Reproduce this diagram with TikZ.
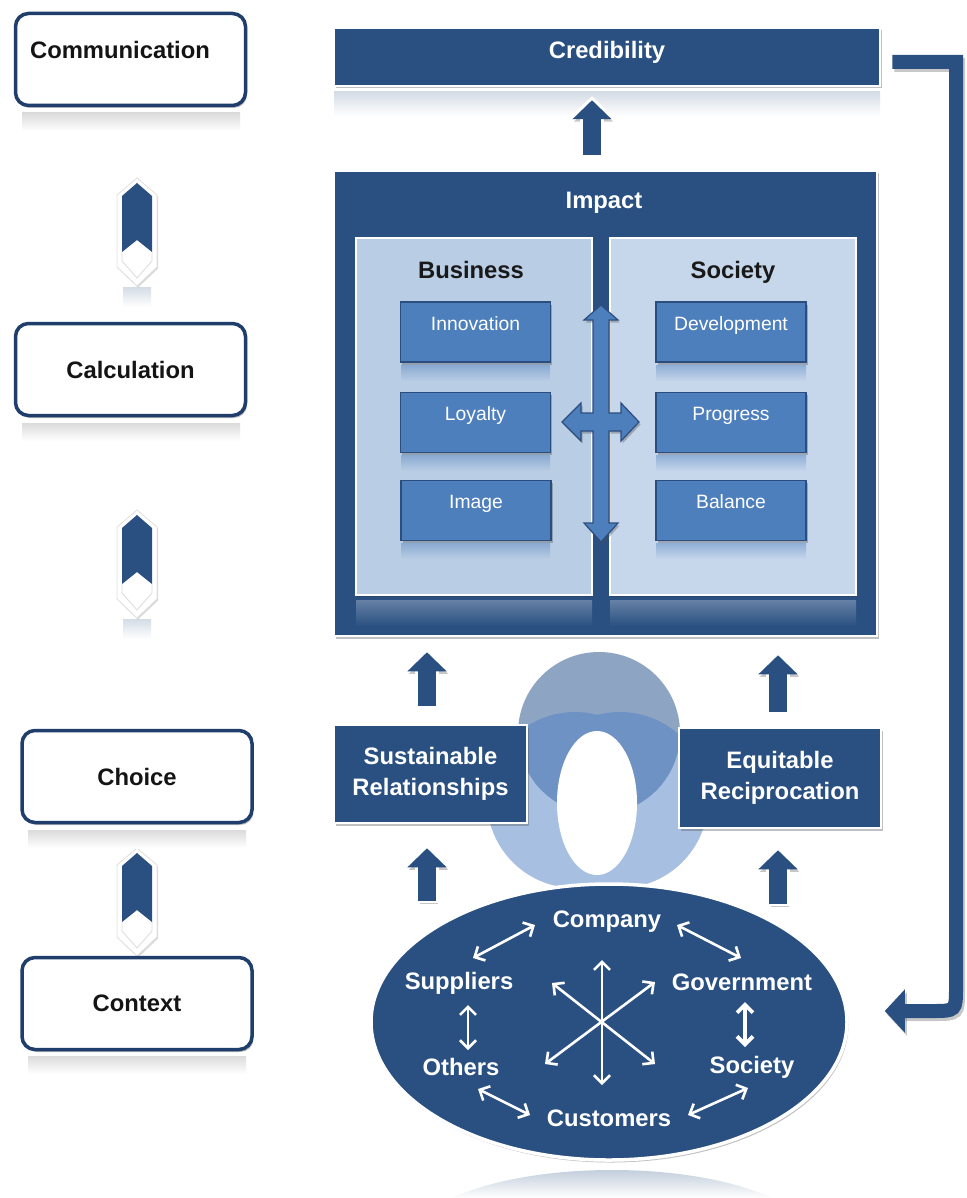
\documentclass[tikz,border=0pt]{standalone}
\usepackage{fontspec}
\setmainfont{Liberation Sans}
\usetikzlibrary{arrows.meta,shadows,calc,shapes.geometric}

\definecolor{dkblue}{RGB}{42,80,130}
\definecolor{rimblue}{RGB}{31,62,107}
\definecolor{midblue}{RGB}{78,127,189}
\definecolor{edgeblue}{RGB}{44,78,126}
\definecolor{panelA}{RGB}{185,205,228}
\definecolor{panelB}{RGB}{198,214,235}
\definecolor{venntop}{RGB}{142,164,195}
\definecolor{vennlow}{RGB}{167,192,225}
\definecolor{vennmix}{RGB}{110,146,196}

\newcommand\boldfont{\fontsize{23.8}{31}\selectfont\bfseries}
\newcommand\itemfont{\fontsize{19.3}{23}\selectfont}

% thick block arrow with white rim and soft shadow
\newcommand\liftarrow[2]{%
  \draw[line width=18pt, black, opacity=.22, -{Triangle[length=19pt,width=38pt]},
        transform canvas={xshift=1.5pt,yshift=-2.5pt}] (#1) -- (#2);
  \draw[line width=24pt, white, -{Triangle[length=22pt,width=46pt]}]
        ($(#1)+(0,2)$) -- ($(#2)+(0,-4)$);
  \draw[line width=18pt, dkblue, -{Triangle[length=19pt,width=38pt]}] (#1) -- (#2);
}

\begin{document}
\begin{tikzpicture}[x=1pt,y=-1pt,
  softshadow/.style={drop shadow={shadow xshift=1.5pt,shadow yshift=-2.5pt,opacity=.35,fill=black!70}},
  stagebox/.style={draw=rimblue, line width=3.5pt, fill=white, rounded corners=13pt,
    minimum width=230pt, minimum height=92pt, softshadow, font=\boldfont, text=black!92},
  navybox/.style={draw=white, line width=2.5pt, fill=dkblue, softshadow, text=white,
    font=\boldfont, align=center},
  panel/.style={draw=white, line width=2.5pt, inner sep=0pt,
    drop shadow={shadow xshift=1pt,shadow yshift=-1.5pt,opacity=.3,fill=black!80}},
  itembox/.style={draw=edgeblue, line width=1.8pt, fill=midblue, softshadow,
    minimum width=150pt, minimum height=60pt, text=white, font=\itemfont,
    text height=14pt, text depth=18pt},
  headtext/.style={font=\boldfont, text height=17pt, text depth=5pt},
  ovaltext/.style={font=\boldfont, text=white, inner sep=1pt},
  warrow/.style={draw=white, line width=2.6pt,
    {Straight Barb[length=8pt,width=16pt]}-{Straight Barb[length=8pt,width=16pt]}},
  boxglow/.style={top color=black!14, bottom color=white},
  blueglow/.style={top color=dkblue!20!white, bottom color=white},
  stagechevron/.pic={
    \shade[blueglow] (-14,104) rectangle (14,124);
    \filldraw[fill=white, draw=black!12, line width=.8pt,
      drop shadow={shadow xshift=1pt,shadow yshift=-1.5pt,opacity=.25,fill=black!60}]
      (0,-5) -- (20,12) -- (20,84) -- (0,103) -- (-20,84) -- (-20,12) -- cycle;
    \draw[black!14, line width=.8pt] (-15,69) -- (-15,78) -- (0,95) -- (15,78) -- (15,69);
    \fill[dkblue] (0,0) -- (15,13) -- (15,69) -- (0,57) -- (-15,69) -- (-15,13) -- cycle;
  }
]
\useasboundingbox (0,0) rectangle (966,1198);
\fill[white] (0,0) rectangle (966,1198);

% ---------- left column: stages ----------
\pic at (137,183) {stagechevron};
\pic at (137,515) {stagechevron};
\pic at (137,853) {stagechevron};

\shade[boxglow] (22,113) rectangle (240,131);
\shade[boxglow] (22,423) rectangle (240,441);
\shade[boxglow] (28,830) rectangle (246,848);
\shade[boxglow] (28,1056) rectangle (246,1074);

\node[stagebox, label={[font=\boldfont, text=black!92, xshift=-10.5pt, yshift=9.5pt]center:Communication}] (comm) at (130.5,59.5) {};
\node[stagebox] (calc) at (130.5,369.5) {Calculation};
\node[stagebox] (choice) at (137,776.5) {Choice};
\node[stagebox] (context) at (137,1003.5) {Context};

% ---------- credibility ----------
\shade[blueglow] (334,92) rectangle (880,116);
\node[navybox, minimum width=546pt, minimum height=58pt, text height=17pt, text depth=14pt] (cred) at (607,57) {Credibility};

% ---------- impact ----------
\node[navybox, minimum width=543pt, minimum height=465pt] (impact) at (605.5,403.5) {};
\node[headtext, text=white] (impacthead) at (604,203) {Impact};

\shade[top color=dkblue!72!white, bottom color=dkblue] (356,600) rectangle (592,626);
\shade[top color=dkblue!72!white, bottom color=dkblue] (610,600) rectangle (856,626);

\node[panel, fill=panelA, minimum width=236pt, minimum height=357pt] (bizpanel) at (474,416.5) {};
\node[panel, fill=panelB, minimum width=246pt, minimum height=357pt] (socpanel) at (733,416.5) {};
\node[headtext, text=black!90] (bizhead) at (471,272) {Business};
\node[headtext, text=black!90] (sochead) at (733,272) {Society};

\foreach \yy in {365,455,543}{
  \shade[top color=midblue!45!panelA, bottom color=panelA] (401,\yy) rectangle (550,\yy+16);
  \shade[top color=midblue!45!panelB, bottom color=panelB] (656,\yy) rectangle (806,\yy+16);
}
\node[itembox] (innov) at (475.5,332) {Innovation};
\node[itembox] (loyal) at (475.5,422.5) {Loyalty};
\node[itembox] (image) at (476,510.5) {Image};
\node[itembox] (devel) at (731,332) {Development};
\node[itembox] (progr) at (731,422.5) {Progress};
\node[itembox] (balan) at (731,510.5) {Balance};

% four-way exchange arrow between the two panels
\coordinate (cross) at (601,422);
\filldraw[fill=midblue, draw=edgeblue, line width=1.2pt, softshadow, shift={(cross)}]
  (0,-117) -- (17,-102) -- (8,-102) -- (8,-9) -- (20,-9) -- (20,-19) -- (38,0)
  -- (20,19) -- (20,9) -- (8,9) -- (8,101) -- (17,101) -- (0,120) -- (-17,101)
  -- (-8,101) -- (-8,9) -- (-20,9) -- (-20,19) -- (-39,0) -- (-20,-19) -- (-20,-9)
  -- (-8,-9) -- (-8,-102) -- (-17,-102) -- cycle;

% ---------- overlapping circles ----------
\fill[vennlow] (575,800) circle (88);
\fill[vennlow] (620,800) circle (88);
\fill[venntop] (599,733) circle (81);
\begin{scope}
  \clip (599,733) circle (81);
  \fill[vennmix] (575,800) circle (88);
  \fill[vennmix] (620,800) circle (88);
\end{scope}
\fill[white] (597,803) ellipse (40 and 72);

% ---------- middle boxes ----------
\node[navybox, minimum width=193pt, minimum height=98pt] (sust) at (430.5,774) {Sustainable\\Relationships};
\node[navybox, minimum width=202pt, minimum height=100pt] (equit) at (780,778) {Equitable\\Reciprocation};

% ---------- context oval ----------
\begin{scope}
  \clip (612,1240) ellipse (200 and 70);
  \shade[top color=dkblue!30!white, bottom color=white] (400,1168) rectangle (830,1198);
\end{scope}
\node[ellipse, draw=white, line width=3.5pt, fill=dkblue, minimum width=476pt,
      minimum height=276pt, softshadow] (ctx) at (609,1022) {};

\node[ovaltext] (comp) at (607,922) {Company};
\node[ovaltext] (supp) at (459,983) {Suppliers};
\node[ovaltext] (govt) at (742,982) {Government};
\node[ovaltext] (othr) at (461,1067) {Others};
\node[ovaltext] (socy) at (752,1067) {Society};
\node[ovaltext] (cust) at (609,1118) {Customers};

\draw[warrow] ($(supp)+(14,-25)$) -- ($(comp)+(-72,3)$);
\draw[warrow] ($(comp)+(70,3)$) -- ($(govt)+(-1,-24)$);
\draw[warrow] ($(supp)+(9,22)$) -- ($(othr)+(7,-17)$);
\draw[warrow, line width=3.8pt] ($(govt)+(3,20)$) -- ($(socy)+(-7,-20)$);
\draw[warrow] ($(othr)+(17,22)$) -- ($(cust)+(-79,-3)$);
\draw[warrow] ($(socy)+(-4,21)$) -- ($(cust)+(79,-3)$);

\coordinate (hub) at (602,1022);
\draw[warrow] ($(hub)+(0,-62)$) -- ($(hub)+(0,63)$);
\draw[warrow] ($(hub)+(-50,-39)$) -- ($(hub)+(53,42)$);
\draw[warrow] ($(hub)+(53,-40)$) -- ($(hub)+(-57,42)$);

% ---------- upward block arrows ----------
\liftarrow{$(impact.north)+(-13.5,-15)$}{$(cred.south)+(-15,13)$}
\liftarrow{$(sust.north)+(-3.5,-18)$}{$(sust.north |- impact.south)+(-3.5,15)$}
\liftarrow{$(equit.north)+(-2,-15)$}{$(equit.north |- impact.south)+(-2,18)$}
\liftarrow{$(sust.south |- ctx.north)+(-3.5,19)$}{$(sust.south)+(-3.5,24)$}
\liftarrow{$(equit.south |- ctx.north)+(-2,22)$}{$(equit.south)+(-2,21)$}

% ---------- feedback loop from credibility back to context ----------
\coordinate (fbA) at ($(cred.east)+(11,5)$);
\coordinate (fbB) at ($(ctx.east)+(36,-11)$);
\draw[line width=14pt, black, opacity=.22, line join=miter,
      -{Triangle[length=20pt,width=42pt]}, transform canvas={xshift=2pt,yshift=-3pt}]
  (fbA) -- (956,62) -- (956,987) .. controls (956,1011) .. (932,1011) -- (fbB);
\draw[line width=14pt, dkblue, line join=miter, -{Triangle[length=20pt,width=42pt]}]
  (fbA) -- (956,62) -- (956,987) .. controls (956,1011) .. (932,1011) -- (fbB);

\end{tikzpicture}
\end{document}
